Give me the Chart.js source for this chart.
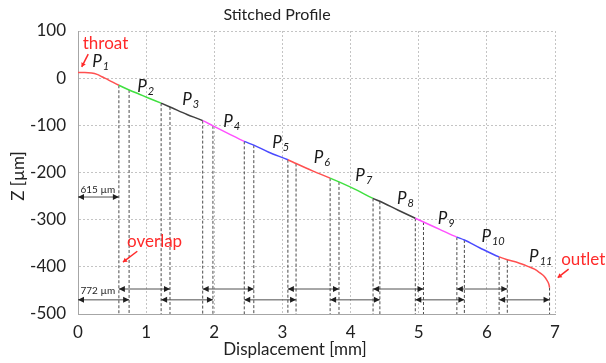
<!DOCTYPE html>
<html>
<head>
<meta charset="utf-8">
<script src="https://cdn.jsdelivr.net/npm/chart.js@4.4.1/dist/chart.umd.min.js"></script>
<style>
  html, body { margin: 0; padding: 0; background: #fff; }
  canvas { display: block; }
</style>
</head>
<body>
<canvas id="profileChart" width="606" height="363"></canvas>
<script>
// stitched profile (x in mm, z in µm)
const profileX = [0, 0.1, 0.2, 0.28, 0.35, 0.45, 0.6, 0.75, 0.9, 1.05, 1.22, 1.35, 1.6, 1.83, 1.98, 2.2, 2.44, 2.58, 2.8, 3.08, 3.2, 3.45, 3.7, 3.83, 4.1, 4.33, 4.43, 4.7, 4.95, 5.07, 5.3, 5.56, 5.67, 5.9, 6.18, 6.3, 6.45, 6.6, 6.7, 6.78, 6.84, 6.88, 6.91, 6.92];
const profileZ = [12, 12, 11, 8, 3, -4, -15, -25, -34, -43, -53, -61, -77, -90, -101, -117, -134, -142, -157, -173, -181, -197, -212, -220, -238, -255, -261, -280, -297, -305, -320, -337, -343, -360, -379, -385, -391, -399, -405, -413, -420, -428, -437, -444];

// one coloured piece per frame P1..P11
const segmentStarts = [0, 0.6, 1.22, 1.83, 2.44, 3.08, 3.7, 4.33, 4.95, 5.56, 6.18];
const segmentColors = ['#ff5050', '#40e040', '#404040', '#ff50ff', '#4a4aff', '#ff5050', '#40e040', '#404040', '#ff50ff', '#4a4aff', '#ff5050'];

// dashed frame limits: x and the z where they leave the profile
const frameStartX = [0.6, 1.22, 1.83, 2.44, 3.08, 3.7, 4.33, 4.95, 5.56, 6.18];
const frameStartZ = [-15, -53, -90, -134, -173, -212, -255, -297, -337, -379];
const frameEndX = [0.75, 1.35, 1.98, 2.58, 3.2, 3.83, 4.43, 5.07, 5.67, 6.3, 6.92];
const frameEndZ = [-25, -61, -101, -142, -181, -220, -261, -305, -343, -385, -444];

// frame width arrows
const upperArrowFrom = [0.6, 1.83, 3.08, 4.33, 5.56];
const upperArrowTo = [1.35, 2.58, 3.83, 5.07, 6.3];
const lowerArrowFrom = [0, 1.22, 2.44, 3.7, 4.95, 6.18];
const lowerArrowTo = [0.75, 1.98, 3.2, 4.43, 5.67, 6.92];
const upperArrowZ = -447;
const lowerArrowZ = -470;

// P labels (left of the P, baseline)
const labelX = [0.21, 0.87, 1.53, 2.13, 2.85, 3.46, 4.07, 4.68, 5.28, 5.92, 6.62];
const labelZ = [23, -30, -57, -104, -148, -180, -218, -267, -309, -347, -389];

const xTicks = [0, 1, 2, 3, 4, 5, 6, 7];
const yTicks = [-500, -400, -300, -200, -100, 0, 100];

function colorAt(x) {
  let c = segmentColors[0];
  segmentStarts.forEach(function (s, i) { if (x >= s - 1e-9) c = segmentColors[i]; });
  return c;
}

const datasets = [{
  label: 'profile',
  data: profileX.map((x, i) => ({ x: x, y: profileZ[i] })),
  borderColor: segmentColors[0],
  segment: { borderColor: ctx => colorAt(ctx.p0.parsed.x) },
  borderWidth: 1.5,
  pointRadius: 0,
  cubicInterpolationMode: 'monotone',
  order: 0
}];

function addDashed(xs, zs) {
  xs.forEach(function (x, i) {
    datasets.push({
      data: [{ x: x, y: zs[i] }, { x: x, y: -500 }],
      borderColor: '#4a4a4a',
      borderWidth: 1,
      borderDash: [3, 2],
      pointRadius: 0,
      order: 1
    });
  });
}
addDashed(frameStartX, frameStartZ);
addDashed(frameEndX, frameEndZ);

function arrowHead(ctx, x0, y0, x1, y1, len, half) {
  const a = Math.atan2(y1 - y0, x1 - x0);
  ctx.beginPath();
  ctx.moveTo(x1, y1);
  ctx.lineTo(x1 - len * Math.cos(a) + half * Math.sin(a), y1 - len * Math.sin(a) - half * Math.cos(a));
  ctx.lineTo(x1 - len * Math.cos(a) - half * Math.sin(a), y1 - len * Math.sin(a) + half * Math.cos(a));
  ctx.closePath();
  ctx.fill();
}

function doubleArrow(ctx, x0, y0, x1, y1) {
  ctx.beginPath();
  ctx.moveTo(x0, y0);
  ctx.lineTo(x1, y1);
  ctx.stroke();
  arrowHead(ctx, x0, y0, x1, y1, 6, 3);
  arrowHead(ctx, x1, y1, x0, y0, 6, 3);
}

const overlay = {
  id: 'overlay',
  afterDraw(chart) {
    const ctx = chart.ctx;
    const sx = chart.scales.x, sy = chart.scales.y;
    const px = v => sx.getPixelForValue(v);
    const py = v => sy.getPixelForValue(v);
    ctx.save();

    // width arrows
    ctx.strokeStyle = '#505050';
    ctx.fillStyle = '#202020';
    ctx.lineWidth = 1;
    upperArrowFrom.forEach(function (a, i) {
      doubleArrow(ctx, px(a), py(upperArrowZ), px(upperArrowTo[i]), py(upperArrowZ));
    });
    lowerArrowFrom.forEach(function (a, i) {
      doubleArrow(ctx, px(a), py(lowerArrowZ), px(lowerArrowTo[i]), py(lowerArrowZ));
    });
    doubleArrow(ctx, px(0), py(-252), px(0.6), py(-252));

    ctx.fillStyle = '#262626';
    ctx.font = '10px Lato';
    ctx.textAlign = 'center';
    ctx.textBaseline = 'middle';
    ctx.fillText('615 µm', px(0.29), py(-237));
    ctx.fillText('772 µm', px(0.29), py(-450));

    // P labels
    ctx.textAlign = 'left';
    ctx.textBaseline = 'alphabetic';
    labelX.forEach(function (lx, i) {
      const x0 = px(lx), y0 = py(labelZ[i]);
      ctx.font = 'italic 17px Lato';
      ctx.fillStyle = '#1a1a1a';
      ctx.fillText('P', x0, y0);
      const w = ctx.measureText('P').width;
      ctx.font = 'italic 11px Lato';
      ctx.fillText(String(i + 1), x0 + w + 1, y0 + 3);
    });

    // red callouts
    ctx.fillStyle = '#ff2a2a';
    ctx.strokeStyle = '#ff2a2a';
    ctx.lineWidth = 1.5;
    ctx.font = '17px Lato';
    ctx.textBaseline = 'middle';
    ctx.fillText('throat', px(0.07), py(74));
    ctx.fillText('overlap', px(0.72), py(-347));
    ctx.fillText('outlet', px(7.09), py(-385));
    const callouts = [[0.15, 51, 0.055, 24], [0.87, -367, 0.66, -390], [7.2, -405, 7.04, -423]];
    callouts.forEach(function (c) {
      const x0 = px(c[0]), y0 = py(c[1]), x1 = px(c[2]), y1 = py(c[3]);
      ctx.beginPath();
      ctx.moveTo(x0, y0);
      ctx.lineTo(x1, y1);
      ctx.stroke();
      arrowHead(ctx, x0, y0, x1, y1, 4, 2.5);
    });

    // titles
    ctx.fillStyle = '#222';
    ctx.textAlign = 'center';
    ctx.font = '16px Lato';
    ctx.fillText('Stitched Profile', 277, 15);
    ctx.font = '17px Lato';
    ctx.fillText('Displacement [mm]', 295, 350);
    ctx.translate(19, 176);
    ctx.rotate(-Math.PI / 2);
    ctx.fillText('Z [µm]', 0, 0);
    ctx.restore();
  }
};

new Chart(document.getElementById('profileChart').getContext('2d'), {
  type: 'line',
  data: { datasets: datasets },
  plugins: [overlay],
  options: {
    responsive: false,
    animation: false,
    layout: { padding: { top: 31, right: 51, left: 0, bottom: 0 } },
    plugins: {
      legend: { display: false },
      tooltip: { enabled: false },
      title: { display: false }
    },
    scales: {
      x: {
        type: 'linear',
        min: 0,
        max: 7,
        afterFit: function (s) { s.height = 49; },
        afterBuildTicks: function (s) { s.ticks = xTicks.map(v => ({ value: v })); },
        grid: { color: '#c4c4c4', drawTicks: false },
        border: { display: true, color: '#a6a6a6', width: 1, dash: [2, 2] },
        ticks: { color: '#222', font: { family: 'Lato', size: 17 }, padding: 8 }
      },
      y: {
        type: 'linear',
        min: -500,
        max: 100,
        afterFit: function (s) { s.width = 78; },
        afterBuildTicks: function (s) { s.ticks = yTicks.map(v => ({ value: v })); },
        grid: { color: '#c4c4c4', drawTicks: false },
        border: { display: true, color: '#a6a6a6', width: 1, dash: [2, 2] },
        ticks: { color: '#222', font: { family: 'Lato', size: 17 }, padding: 12 }
      }
    }
  }
});
</script>
</body>
</html>
